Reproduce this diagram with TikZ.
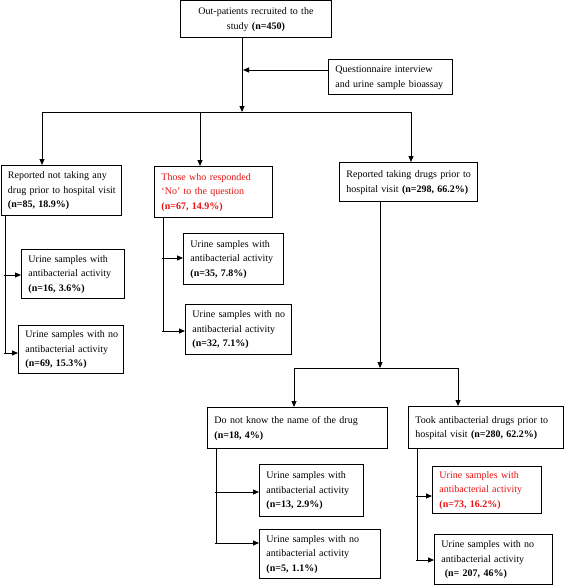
\documentclass[tikz,border=0pt]{standalone}
\usepackage{fontspec}
\setmainfont{Liberation Serif}
\usetikzlibrary{arrows.meta}
\definecolor{myred}{RGB}{232,18,18}
\tikzset{
  box/.style={draw, line width=0.9pt, anchor=north west, inner xsep=7pt, inner ysep=0pt,
    font=\fontsize{10}{14.5}\selectfont},
  conn/.style={line width=0.9pt},
  arr/.style={conn, -{Triangle[length=6pt,width=5pt]}}
}
\newcommand\mkbox[8]{%
  \pgfmathsetmacro\bw{#4-#2}\pgfmathsetmacro\bh{#5-#3}\pgfmathsetmacro\tw{#4-#2-14}%
  \node[box, #6, minimum width=\bw pt, minimum height=\bh pt, text width=\tw pt] (#1) at (#2,#3)
    {\begin{tabular}{@{}#7@{}}#8\end{tabular}};}
\begin{document}
\begin{tikzpicture}[x=1pt,y=-1pt]
\fill[white] (0,0) rectangle (567,586);
\useasboundingbox (0,0) rectangle (567,586);
\mkbox{top}{180}{0.5}{331}{37}{align=center}{c}{Out-patients recruited to the\\ study \textbf{(n=450)}}
\mkbox{q}{328}{59}{452}{94}{align=left}{l}{Questionnaire interview\\ and urine sample bioassay}
\mkbox{L}{0.5}{165}{121}{215}{align=left}{l}{Reported not taking any\\ drug prior to hospital visit\\ \textbf{(n=85, 18.9\%)}}
\mkbox{M}{154}{166}{272}{217}{align=left,text=myred}{l}{Those who responded\\ ‘No’ to the question\\ \textbf{(n=67, 14.9\%)}}
\mkbox{R}{339}{162}{477}{201}{align=left}{l}{Reported taking drugs prior to\\ hospital visit \textbf{(n=298, 66.2\%)}}
\mkbox{L1}{21}{249}{124}{298}{align=left}{l}{Urine samples with\\ antibacterial activity\\ \textbf{(n=16, 3.6\%)}}
\mkbox{L2}{18}{325}{123}{373}{align=left}{l}{Urine samples with no\\ antibacterial activity\\ \textbf{(n=69, 15.3\%)}}
\mkbox{M1}{183}{233}{283}{284}{align=left}{l}{Urine samples with\\ antibacterial activity\\ \textbf{(n=35, 7.8\%)}}
\mkbox{M2}{185}{304}{291}{354}{align=left}{l}{Urine samples with no\\ antibacterial activity\\ \textbf{(n=32, 7.1\%)}}
\mkbox{B1}{207}{407}{387}{448}{align=left}{l}{Do not know the name of the drug\\ \textbf{(n=18, 4\%)}}
\mkbox{B2}{408}{406}{563}{448}{align=left}{l}{Took antibacterial drugs prior to\\ hospital visit \textbf{(n=280, 62.2\%)}}
\mkbox{B1a}{259}{464}{363}{516}{align=left}{l}{Urine samples with\\ antibacterial activity\\ \textbf{(n=13, 2.9\%)}}
\mkbox{B1b}{259}{529}{380}{578}{align=left}{l}{Urine samples with no\\ antibacterial activity\\ \textbf{(n=5, 1.1\%)}}
\mkbox{B2a}{432}{466}{541}{513}{align=left,text=myred}{l}{Urine samples with\\ antibacterial activity\\ \textbf{(n=73, 16.2\%)}}
\mkbox{B2b}{434}{534}{552}{584}{align=left}{l}{Urine samples with no\\ antibacterial activity\\ \ \textbf{(n= 207, 46\%)}}
% top flow
\draw[arr] (top.south -| 242,0) -- (242,112);
\draw[arr] (q.west |- 0,70) -- (243,70);
\draw[conn] (42,112) -- (411,112);
\draw[arr] (42,112) -- (L.north -| 42,0);
\draw[arr] (200,112) -- (M.north -| 200,0);
\draw[arr] (411,112) -- (R.north -| 411,0);
% left branch
\draw[conn] (L.south -| 5,0) -- (5,353);
\draw[arr] (4,275) -- (L1.west |- 0,275);
\draw[arr] (4,353) -- (L2.west |- 0,353);
% middle branch
\draw[conn] (M.south -| 163,0) -- (163,331);
\draw[arr] (162,258) -- (M1.west |- 0,258);
\draw[arr] (162,331) -- (M2.west |- 0,331);
% right branch
\draw[arr] (R.south -| 380,0) -- (380,368);
\draw[conn] (294,368) -- (458,368);
\draw[arr] (294,368) -- (B1.north -| 294,0);
\draw[arr] (458,368) -- (B2.north -| 458,0);
% bottom left
\draw[conn] (B1.south -| 216,0) -- (216,543);
\draw[arr] (215,492) -- (B1a.west |- 0,492);
\draw[arr] (215,543) -- (B1b.west |- 0,543);
% bottom right
\draw[conn] (B2.south -| 417,0) -- (417,560);
\draw[arr] (416,496) -- (B2a.west |- 0,496);
\draw[arr] (416,560) -- (B2b.west |- 0,560);
\end{tikzpicture}
\end{document}
